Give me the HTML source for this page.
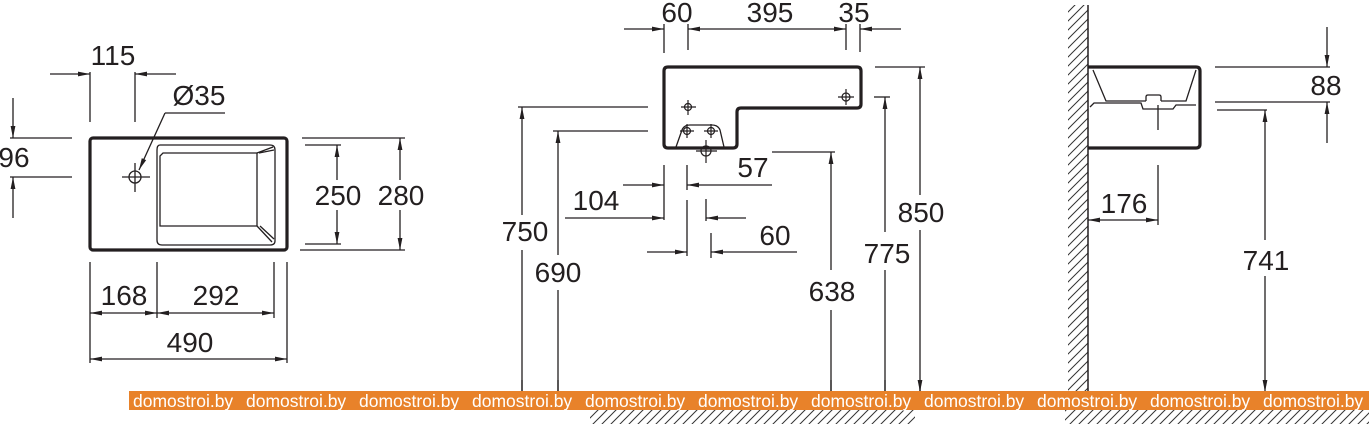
<!DOCTYPE html>
<html><head><meta charset="utf-8"><style>
html,body{margin:0;padding:0;background:#fff;width:1369px;height:424px;overflow:hidden}
svg{display:block}
text{font-family:"Liberation Sans",Arial,sans-serif;fill:#231f20}
.t{font-size:28px;text-anchor:middle}
.w{font-size:17.5px;fill:#fff}
</style></head><body>
<svg width="1369" height="424" viewBox="0 0 1369 424" xmlns="http://www.w3.org/2000/svg">
<defs>
<marker id="a" viewBox="0 0 12 6" refX="12" refY="3" markerWidth="12" markerHeight="6" markerUnits="userSpaceOnUse" orient="auto">
<path d="M0,0.6 L12,3 L0,5.4 Z" fill="#231f20"/></marker>
<pattern id="h" width="9" height="9" patternUnits="userSpaceOnUse">
<path d="M0,9 L9,0 M-2,2 L2,-2 M7,11 L11,7" stroke="#333" stroke-width="1"/></pattern>
</defs>
<g stroke="#231f20" stroke-width="1.3" fill="none">
<!-- LEFT VIEW -->
<rect x="90" y="138" width="197" height="112" rx="3" stroke-width="3.2"/>
<path d="M160,145 H270 Q275,145 275,150 V241 Q275,245 270,245 H162 Q157,245 157,240 V150 Q157,145 160,145Z"/>
<path d="M163,153 H257 V226 H160 V156Z"/>
<path d="M257,153 L273,147 M257,226 L272,242 M260,226 L274,239 M259,153 L274,150"/>
<circle cx="135" cy="177" r="6"/>
<path d="M122,177 H150 M135,163 V192"/>
<path d="M165,113 L139,170" marker-end="url(#a)"/><path d="M165,113 H225"/>
<path d="M90,72 V122 M135,72 V122"/>
<path d="M50,74 H90" marker-end="url(#a)"/><path d="M176,74 H135" marker-end="url(#a)"/>
<path d="M10,138 H72 M10,177 H72"/>
<path d="M13,98 V138" marker-end="url(#a)"/><path d="M13,218 V177" marker-end="url(#a)"/>
<path d="M302,138 H405 M300,250 H405 M305,145 H341 M305,244 H341"/>
<path d="M337,180 V145" marker-end="url(#a)"/><path d="M337,210 V244" marker-end="url(#a)"/>
<path d="M400,180 V138" marker-end="url(#a)"/><path d="M400,210 V250" marker-end="url(#a)"/>
<path d="M90,262 V363 M287,262 V363 M157,262 V318 M274,262 V318"/>
<path d="M124,313 H90" marker-end="url(#a)"/><path d="M124,313 H157" marker-end="url(#a)"/>
<path d="M215,313 H157" marker-end="url(#a)"/><path d="M215,313 H274" marker-end="url(#a)"/>
<path d="M188,359 H90" marker-end="url(#a)"/><path d="M188,359 H287" marker-end="url(#a)"/>
<!-- MIDDLE VIEW -->
<path d="M668,67 H857 Q861,67 861,71 V104 Q861,108 857,108 H741 Q737,108 737,112 V144 Q737,148 733,148 H668 Q664,148 664,144 V71 Q664,67 668,67Z" stroke-width="3.2"/>
<path d="M676,147 L682,130 Q684,125 690,125 H712 Q718,125 720,130 L724,147"/>
<g stroke-width="1.2"><circle cx="688" cy="107" r="3.5"/><path d="M681,107 H696 M688,100 V115"/>
<circle cx="687" cy="131" r="3.5"/><path d="M680,131 H694 M687,124 V138"/>
<circle cx="711" cy="131" r="3.5"/><path d="M704,131 H718 M711,124 V138"/>
<circle cx="846" cy="97" r="4"/><path d="M838,97 H854 M846,89 V105"/>
<circle cx="706" cy="151" r="5"/><path d="M696,151 H717 M706,140 V163"/></g>
<path d="M664,24 V53 M688,24 V50 M846,24 V50 M860,24 V52"/>
<path d="M624,29 H664" marker-end="url(#a)"/><path d="M901,29 H860" marker-end="url(#a)"/>
<path d="M767,29 H688" marker-end="url(#a)"/><path d="M767,29 H846" marker-end="url(#a)"/>
<path d="M518,107 H648 M553,131 H648"/>
<path d="M522,215 V107" marker-end="url(#a)"/><path d="M522,250 V392"/>
<path d="M558,255 V131" marker-end="url(#a)"/><path d="M558,290 V392"/>
<path d="M664,165 V220 M687,165 V190 M687,200 V256 M706,199 V221 M711,233 V258"/>
<path d="M623,185 H664" marker-end="url(#a)"/>
<path d="M565,218 H664" marker-end="url(#a)"/>
<path d="M772,185 H687" marker-end="url(#a)"/>
<path d="M746,218 H706" marker-end="url(#a)"/>
<path d="M647,252 H687" marker-end="url(#a)"/>
<path d="M797,252 H711" marker-end="url(#a)"/>
<path d="M772,152 H835"/>
<path d="M831,270 V152" marker-end="url(#a)"/><path d="M831,310 V392"/>
<path d="M874,97 H890"/>
<path d="M885,232 V97" marker-end="url(#a)"/><path d="M885,270 V392"/>
<path d="M875,67 H925"/>
<path d="M920,195 V67" marker-end="url(#a)"/><path d="M920,230 V392"/>
<!-- RIGHT VIEW -->
<rect x="1068" y="5" width="20" height="387" fill="url(#h)" stroke="none"/>
<path d="M1088,5 V392" stroke-width="1.5"/>
<path d="M1088,67 H1196 Q1200,67 1200,71 V144 Q1200,148 1196,148 H1088" stroke-width="3.2"/>
<path d="M1093,70 L1106,101 H1146 M1161,101 H1186 L1196,70"/>
<path d="M1146,101 V97 Q1146,95 1148,95 H1159 Q1161,95 1161,97 V101"/>
<path d="M1090,107 L1094,103 H1141 L1143,109 H1173 L1176,105 H1196"/>
<path d="M1158,105 V130"/>
<path d="M1215,67 H1330 M1215,102 H1330 M1217,110 H1267"/>
<path d="M1327,27 V67" marker-end="url(#a)"/><path d="M1327,143 V102" marker-end="url(#a)"/>
<path d="M1158,165 V225"/>
<path d="M1123,220 H1088" marker-end="url(#a)"/><path d="M1123,220 H1158" marker-end="url(#a)"/>
<path d="M1265,240 V110" marker-end="url(#a)"/><path d="M1265,276 V392" marker-end="url(#a)"/>
</g>
<path d="M522,380 V392 M558,380 V392 M831,380 V392 M885,380 V392 M920,380 V392" stroke="#231f20" stroke-width="1.3" marker-end="url(#a)"/>
<rect x="590" y="410" width="325" height="14" fill="url(#h)"/>
<rect x="1065" y="410" width="304" height="14" fill="url(#h)"/>
<g>
<text class="t" x="113" y="65">115</text>
<text class="t" x="199" y="105">Ø35</text>
<text class="t" x="14" y="167">96</text>
<text class="t" x="338" y="205">250</text>
<text class="t" x="401" y="205">280</text>
<text class="t" x="124" y="305">168</text>
<text class="t" x="216" y="305">292</text>
<text class="t" x="190" y="352">490</text>
<text class="t" x="677" y="22">60</text>
<text class="t" x="770" y="22">395</text>
<text class="t" x="854" y="22">35</text>
<text class="t" x="753" y="177">57</text>
<text class="t" x="596" y="210">104</text>
<text class="t" x="775" y="245">60</text>
<text class="t" x="525" y="241">750</text>
<text class="t" x="558" y="282">690</text>
<text class="t" x="832" y="301">638</text>
<text class="t" x="887" y="263">775</text>
<text class="t" x="921" y="222">850</text>
<text class="t" x="1326" y="95">88</text>
<text class="t" x="1124" y="213">176</text>
<text class="t" x="1266" y="270">741</text>
</g>
<rect x="129" y="391" width="1240" height="19" fill="#e8822a"/>
<g>
<text class="w" x="133" y="407">domostroi.by</text>
<text class="w" x="246" y="407">domostroi.by</text>
<text class="w" x="359" y="407">domostroi.by</text>
<text class="w" x="472" y="407">domostroi.by</text>
<text class="w" x="585" y="407">domostroi.by</text>
<text class="w" x="698" y="407">domostroi.by</text>
<text class="w" x="811" y="407">domostroi.by</text>
<text class="w" x="924" y="407">domostroi.by</text>
<text class="w" x="1037" y="407">domostroi.by</text>
<text class="w" x="1150" y="407">domostroi.by</text>
<text class="w" x="1263" y="407">domostroi.by</text>
</g>
</svg>
</body></html>
